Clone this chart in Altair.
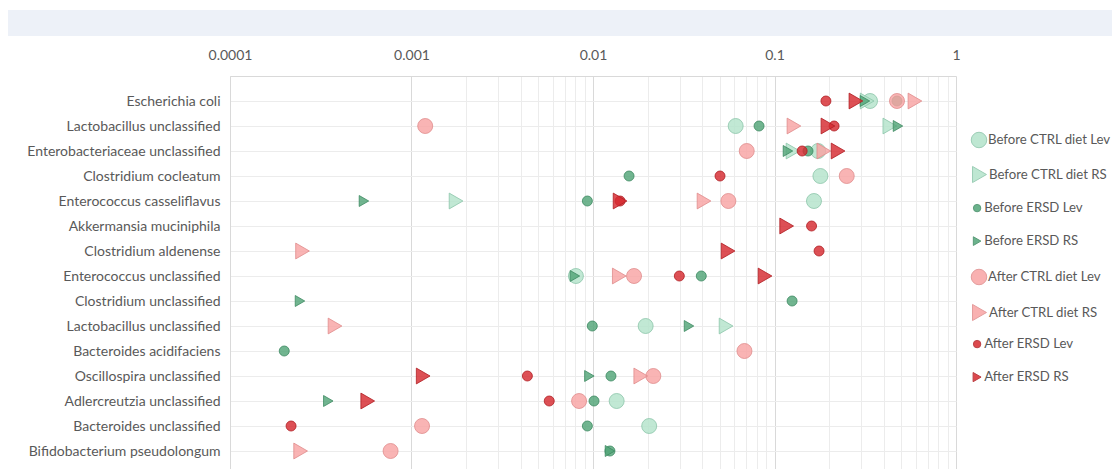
import json

import altair as alt
import pandas as pd

# Bacterial taxa, top to bottom
species = [
    "Escherichia coli",
    "Lactobacillus unclassified",
    "Enterobacteriaceae unclassified",
    "Clostridium cocleatum",
    "Enterococcus casseliflavus",
    "Akkermansia muciniphila",
    "Clostridium aldenense",
    "Enterococcus unclassified",
    "Clostridium unclassified",
    "Lactobacillus unclassified",
    "Bacteroides acidifaciens",
    "Oscillospira unclassified",
    "Adlercreutzia unclassified",
    "Bacteroides unclassified",
    "Bifidobacterium pseudolongum",
]

# Relative abundance per taxon (None = not detected)
N = None
before_ctrl_lev = [0.336, 0.0611, 0.174, 0.179, 0.165, N, N, 0.00805, N, 0.0195, N, N, 0.0135, 0.0204, N]
before_ctrl_rs = [0.324, 0.432, 0.1265, N, 0.00176, N, N, N, N, 0.0541, N, N, N, N, N]
before_ersd_lev = [0.473, 0.0822, 0.153, 0.0158, 0.00931, N, N, 0.0395, 0.125, 0.00991, 0.000199, 0.01256, 0.01013, 0.00931, 0.0124]
before_ersd_rs = [0.315, 0.479, 0.1186, N, 0.000547, N, N, 0.00795, 0.000243, 0.0338, N, 0.00955, 0.000348, N, 0.0124]
after_ctrl_lev = [0.473, 0.00119, 0.0703, 0.250, 0.0557, N, N, 0.01683, N, N, 0.0683, 0.0215, 0.00838, 0.001143, 0.000767]
after_ctrl_rs = [0.594, 0.128, 0.187, N, 0.0409, N, 0.000251, 0.01396, N, 0.000379, N, 0.01833, N, N, 0.000245]
after_ersd_lev = [0.192, 0.213, 0.142, 0.0501, 0.0141, 0.160, 0.176, 0.0299, N, N, N, 0.00435, 0.00574, 0.000217, N]
after_ersd_rs = [0.281, 0.197, 0.224, N, 0.0141, 0.1167, 0.0555, 0.0887, N, N, N, 0.00116, 0.000574, N, N]

# Axis ticks
decade_labels = ["0.0001", "0.001", "0.01", "0.1", "1"]
decades = [float(s) for s in decade_labels]
minor_steps = [2, 3, 4, 5, 6, 7, 8, 9]

# name, values, marker, fill, stroke, marker size, legend symbol size
series = [
    ("Before CTRL diet Lev", before_ctrl_lev, "circle", "#b3e3cb", "#8cc6aa", 225, 240),
    ("Before CTRL diet RS", before_ctrl_rs, "triangle-right", "#b3e3cb", "#8cc6aa", 250, 260),
    ("Before ERSD Lev", before_ersd_lev, "circle", "#52a578", "#3d8a61", 100, 55),
    ("Before ERSD RS", before_ersd_rs, "triangle-right", "#52a578", "#3d8a61", 120, 75),
    ("After CTRL diet Lev", after_ctrl_lev, "circle", "#f8a4a4", "#e08c8c", 225, 240),
    ("After CTRL diet RS", after_ctrl_rs, "triangle-right", "#f8a4a4", "#e08c8c", 250, 260),
    ("After ERSD Lev", after_ersd_lev, "circle", "#d62a2f", "#b01e23", 100, 55),
    ("After ERSD RS", after_ersd_rs, "triangle-right", "#d62a2f", "#b01e23", 250, 85),
]

FONT = "Lato"
TEXT = "#595959"
W, H = 726, 393

tick_values = []
for d in decade_labels[:-1]:
    k = d.count("0") - 1
    tick_values.append(float(d))
    tick_values += [float(f"{m}e-{k}") for m in minor_steps]
tick_values.append(1.0)

is_decade = f"indexof({json.dumps(decades)}, datum.value) >= 0"

x_enc = alt.X(
    "value:Q",
    title=None,
    scale=alt.Scale(type="log", domain=[decades[0], decades[-1]], nice=False),
    axis=alt.Axis(
        orient="top",
        values=tick_values,
        labelExpr=f"{is_decade} ? format(datum.value, '~g') : ''",
        labelOverlap=False,
        labelFlush=False,
        labelAlign="center",
        labelFont=FONT,
        labelFontSize=14,
        labelColor=TEXT,
        labelPadding=14,
        ticks=False,
        domainColor="#d9d9d9",
        gridColor={"condition": {"test": is_decade, "value": "#d9d9d9"}, "value": "#ececec"},
        gridWidth=1,
    ),
)

y_enc = alt.Y(
    "row:Q",
    title=None,
    scale=alt.Scale(domain=[0, H / 25], reverse=True, nice=False, zero=False),
    axis=alt.Axis(
        values=list(range(1, len(species) + 1)),
        labelExpr=f"{json.dumps(species)}[datum.value - 1]",
        labelFont=FONT,
        labelFontSize=14,
        labelColor=TEXT,
        labelPadding=10,
        labelLimit=400,
        ticks=False,
        domainColor="#d9d9d9",
        gridColor="#ececec",
    ),
)

# Pale header band above the axis labels
band = alt.Chart(pd.DataFrame({"k": [0]})).mark_rect(color="#edf1f8").encode(
    x=alt.value(-222), x2=alt.value(W + 156), y=alt.value(-66), y2=alt.value(-40)
)

legend_rows = [63, 97, 133, 166, 200, 235, 269, 302]

layers = [band]
for i, (name, vals, shape, fill, stroke, size, lsize) in enumerate(series):
    df = pd.DataFrame(
        [{"series": name, "row": r + 1, "value": v} for r, v in enumerate(vals) if v is not None]
    )
    legend = alt.Legend(
        orient="none",
        legendX=740.5,
        legendY=legend_rows[i] - 7.5,
        padding=0,
        symbolType=shape,
        symbolSize=lsize,
        symbolStrokeColor=stroke,
        symbolStrokeWidth=1,
        symbolOpacity=0.85,
        labelFont=FONT,
        labelFontSize=13.2,
        labelColor=TEXT,
        labelOffset=0.5,
    )
    layers.append(
        alt.Chart(df)
        .mark_point(
            shape=shape,
            filled=True,
            size=size,
            fillOpacity=0.82,
            stroke=stroke,
            strokeWidth=1,
            strokeOpacity=0.8,
        )
        .encode(
            x=x_enc,
            y=y_enc,
            color=alt.Color(
                "series:N",
                title=None,
                scale=alt.Scale(domain=[name], range=[fill]),
                legend=legend,
            ),
        )
    )

chart = (
    alt.layer(*layers)
    .resolve_scale(color="independent")
    .properties(
        width=W,
        height=H,
        padding={"left": 230, "top": 76, "right": 156, "bottom": 0},
        autosize=alt.AutoSizeParams(type="none"),
        background="white",
    )
    .configure_view(stroke="transparent")
)

chart.save("out.html", embed_options={"renderer": "svg", "actions": False})
